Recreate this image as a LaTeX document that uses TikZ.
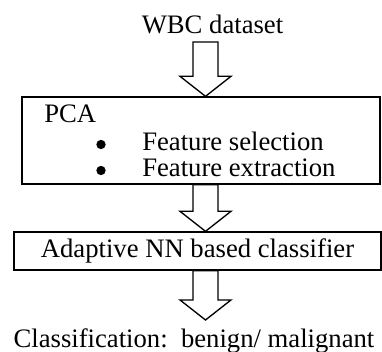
\documentclass[tikz,border=0pt]{standalone}
\usepackage{fontspec}
\setmainfont{Liberation Serif}
\usetikzlibrary{calc}
% hollow block arrow from #1 (top of shaft) to #2 (tip)
\newcommand\hollowarrow[2]{%
  \path[blockarrow] let \p1=(#1), \p2=(#2) in
    (\x1-9.4pt,\y1) -- (\x1-9.4pt,\y2+15pt) -- (\x1-19.1pt,\y2+15pt)
    -- (\x1,\y2) -- (\x1+19.1pt,\y2+15pt) -- (\x1+9.4pt,\y2+15pt)
    -- (\x1+9.4pt,\y1) -- cycle;}
\begin{document}
\begin{tikzpicture}[x=0.75pt,y=-0.75pt,
  every node/.style={font=\fontsize{20}{24}\selectfont, inner sep=0pt},
  box/.style={draw, line width=1pt, rectangle},
  dot/.style={circle, fill=black, minimum size=7pt},
  blockarrow/.style={draw, fill=white, line width=1pt, line join=miter}]
\useasboundingbox (0,0) rectangle (382,352);

% input data
\node[anchor=base] (wbc) at (212.5,34) {WBC dataset};

% PCA stage
\node[box, minimum width=268.5pt, minimum height=65.25pt] (pca) at (201,140.5) {};
\node[anchor=base west] (pcat) at (44,123) {PCA};
\node[dot] (b1) at (101,144.5) {};
\node[anchor=base west] (fs) at (142,151) {Feature selection};
\node[dot] (b2) at (101,170.5) {};
\node[anchor=base west] (fe) at (142,177) {Feature extraction};

% classifier stage
\node[box, minimum width=275.25pt, minimum height=28.5pt] (nn) at (197.5,251) {Adaptive NN based classifier};

% output
\node[anchor=base] (out) at (194,348) {Classification:\ \ benign/ malignant};

% arrow axis and free ends
\coordinate (ax) at (205.5,0);
\coordinate (a1) at (205.5,42);
\coordinate (a3) at (205.5,320);

\hollowarrow{a1}{pca.north -| ax}
\hollowarrow{pca.south -| ax}{nn.north -| ax}
\hollowarrow{nn.south -| ax}{a3}
\end{tikzpicture}
\end{document}
